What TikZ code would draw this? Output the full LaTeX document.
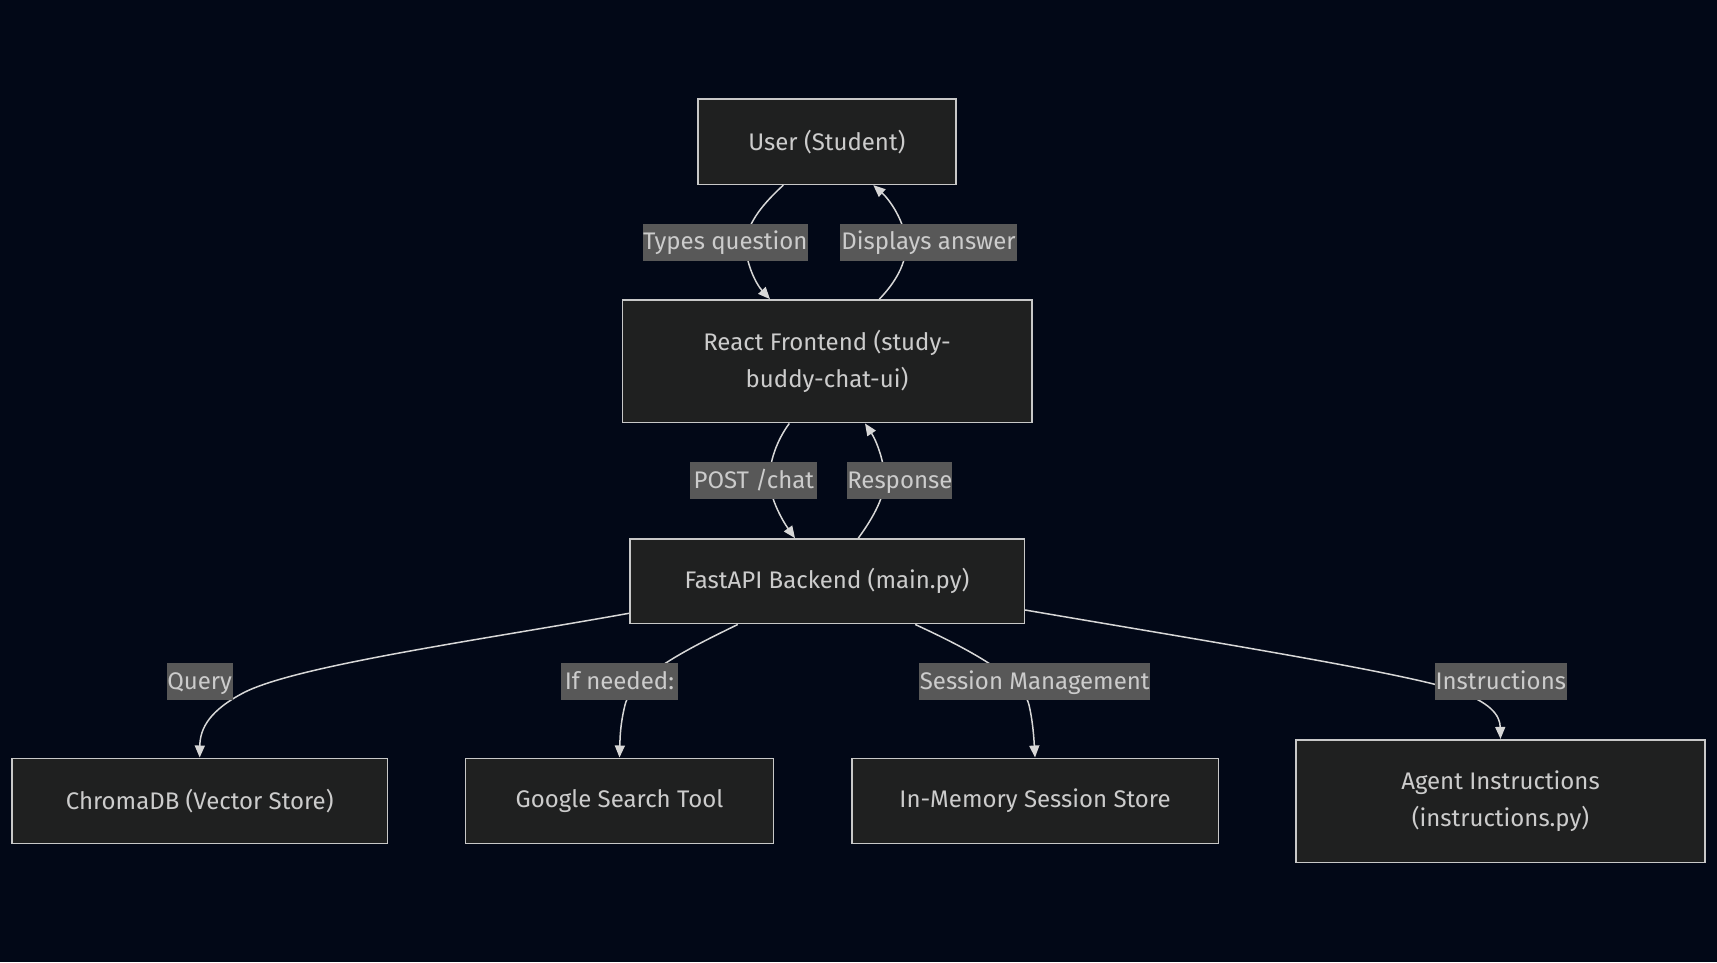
\documentclass[tikz,border=0pt]{standalone}
\usepackage{fontspec}
\setmainfont{Fira Sans}
\usetikzlibrary{arrows.meta}
\definecolor{bg}{RGB}{2,8,23}
\definecolor{boxfill}{RGB}{31,32,32}
\definecolor{boxline}{RGB}{200,200,200}
\definecolor{lblfill}{RGB}{88,88,88}
\definecolor{txt}{RGB}{204,204,204}
\definecolor{edgecol}{RGB}{215,215,215}
\begin{document}
\begin{tikzpicture}[x=1pt,y=-1pt,
  box/.style={draw=boxline, fill=boxfill, line width=1.6pt, text=txt,
    font=\fontsize{24}{36.7}\selectfont, align=center, inner sep=0pt},
  lbl/.style={fill=lblfill, text=txt, font=\fontsize{24}{28}\selectfont,
    inner xsep=0pt, inner ysep=0pt, minimum height=37.3pt,
    text height=18pt, text depth=3pt},
  conn/.style={draw=edgecol, line width=1.5pt, -{Triangle[length=12pt,width=10pt]}}
]
\fill[bg] (0,0) rectangle (1717,962);
% nodes
\node[box, minimum width=258.3pt, minimum height=85.3pt] (user) at (826.9,141.7) {User (Student)};
\node[box, minimum width=409.4pt, minimum height=122.7pt] (react) at (827,361.3) {React Frontend (study-\\buddy-chat-ui)};
\node[box, minimum width=394.6pt, minimum height=84.7pt] (fast) at (827,581.3) {FastAPI Backend (main.py)};
\node[box, minimum width=375.3pt, minimum height=85pt] (chroma) at (199.7,800.8) {ChromaDB (Vector Store)};
\node[box, minimum width=307.7pt, minimum height=85pt] (google) at (619.5,800.8) {Google Search Tool};
\node[box, minimum width=366.6pt, minimum height=85pt] (mem) at (1035,800.8) {In-Memory Session Store};
\node[box, minimum width=408.7pt, minimum height=122.6pt] (agent) at (1500.5,801) {Agent Instructions\\(instructions.py)};
% connectors
\draw[conn] ([xshift=-43.6pt]user.south) .. controls (765,202) and (747,222) .. (746,243)
   .. controls (745,262) and (756,284) .. ([xshift=-57pt]react.north);
\draw[conn] ([xshift=52.3pt]react.north) .. controls (895,283) and (907,263) .. (906,243)
   .. controls (905,222) and (890,200) .. ([xshift=46.4pt]user.south);
\draw[conn] ([xshift=-37.7pt]react.south) .. controls (777,440) and (769,462) .. (769.5,481)
   .. controls (770,498) and (782,520) .. ([xshift=-32pt]fast.north);
\draw[conn] ([xshift=31.3pt]fast.north) .. controls (870,522) and (884,500) .. (884.5,481)
   .. controls (885,462) and (876,440) .. ([xshift=38pt]react.south);
\draw[conn] ([yshift=-32pt]fast.west) .. controls (480,640) and (300,665) .. (245,692)
   .. controls (210,710) and (200,728) .. (chroma.north);
\draw[conn] ([xshift=-89.2pt]fast.south) .. controls (700,643) and (632,675) .. (625,705)
   .. controls (620,725) and (620,740) .. (google.north);
\draw[conn] ([xshift=88.2pt]fast.south) .. controls (955,643) and (1022,675) .. (1029,705)
   .. controls (1033,722) and (1034,740) .. (mem.north);
\draw[conn] ([yshift=-28.7pt]fast.east) .. controls (1200,640) and (1400,672) .. (1455,690)
   .. controls (1490,702) and (1500,715) .. (agent.north);
% labels
\node[lbl, minimum width=164.7pt] (l1) at (725.3,242.4) {Types question};
\node[lbl, minimum width=177pt] (l2) at (928.5,242.4) {Displays answer};
\node[lbl, minimum width=127pt] (l3) at (753.8,480.7) {POST /chat};
\node[lbl, minimum width=101.7pt] (l4) at (899.8,480.7) {Response};
\node[lbl, minimum width=65.8pt] (l5) at (199.7,681.8) {Query};
\node[lbl, minimum width=116.3pt] (l6) at (619.4,681.8) {If needed:};
\node[lbl, minimum width=231.1pt] (l7) at (1034.7,681.8) {Session Management};
\node[lbl, minimum width=131.6pt] (l8) at (1500.8,681.8) {Instructions};
\end{tikzpicture}
\end{document}
